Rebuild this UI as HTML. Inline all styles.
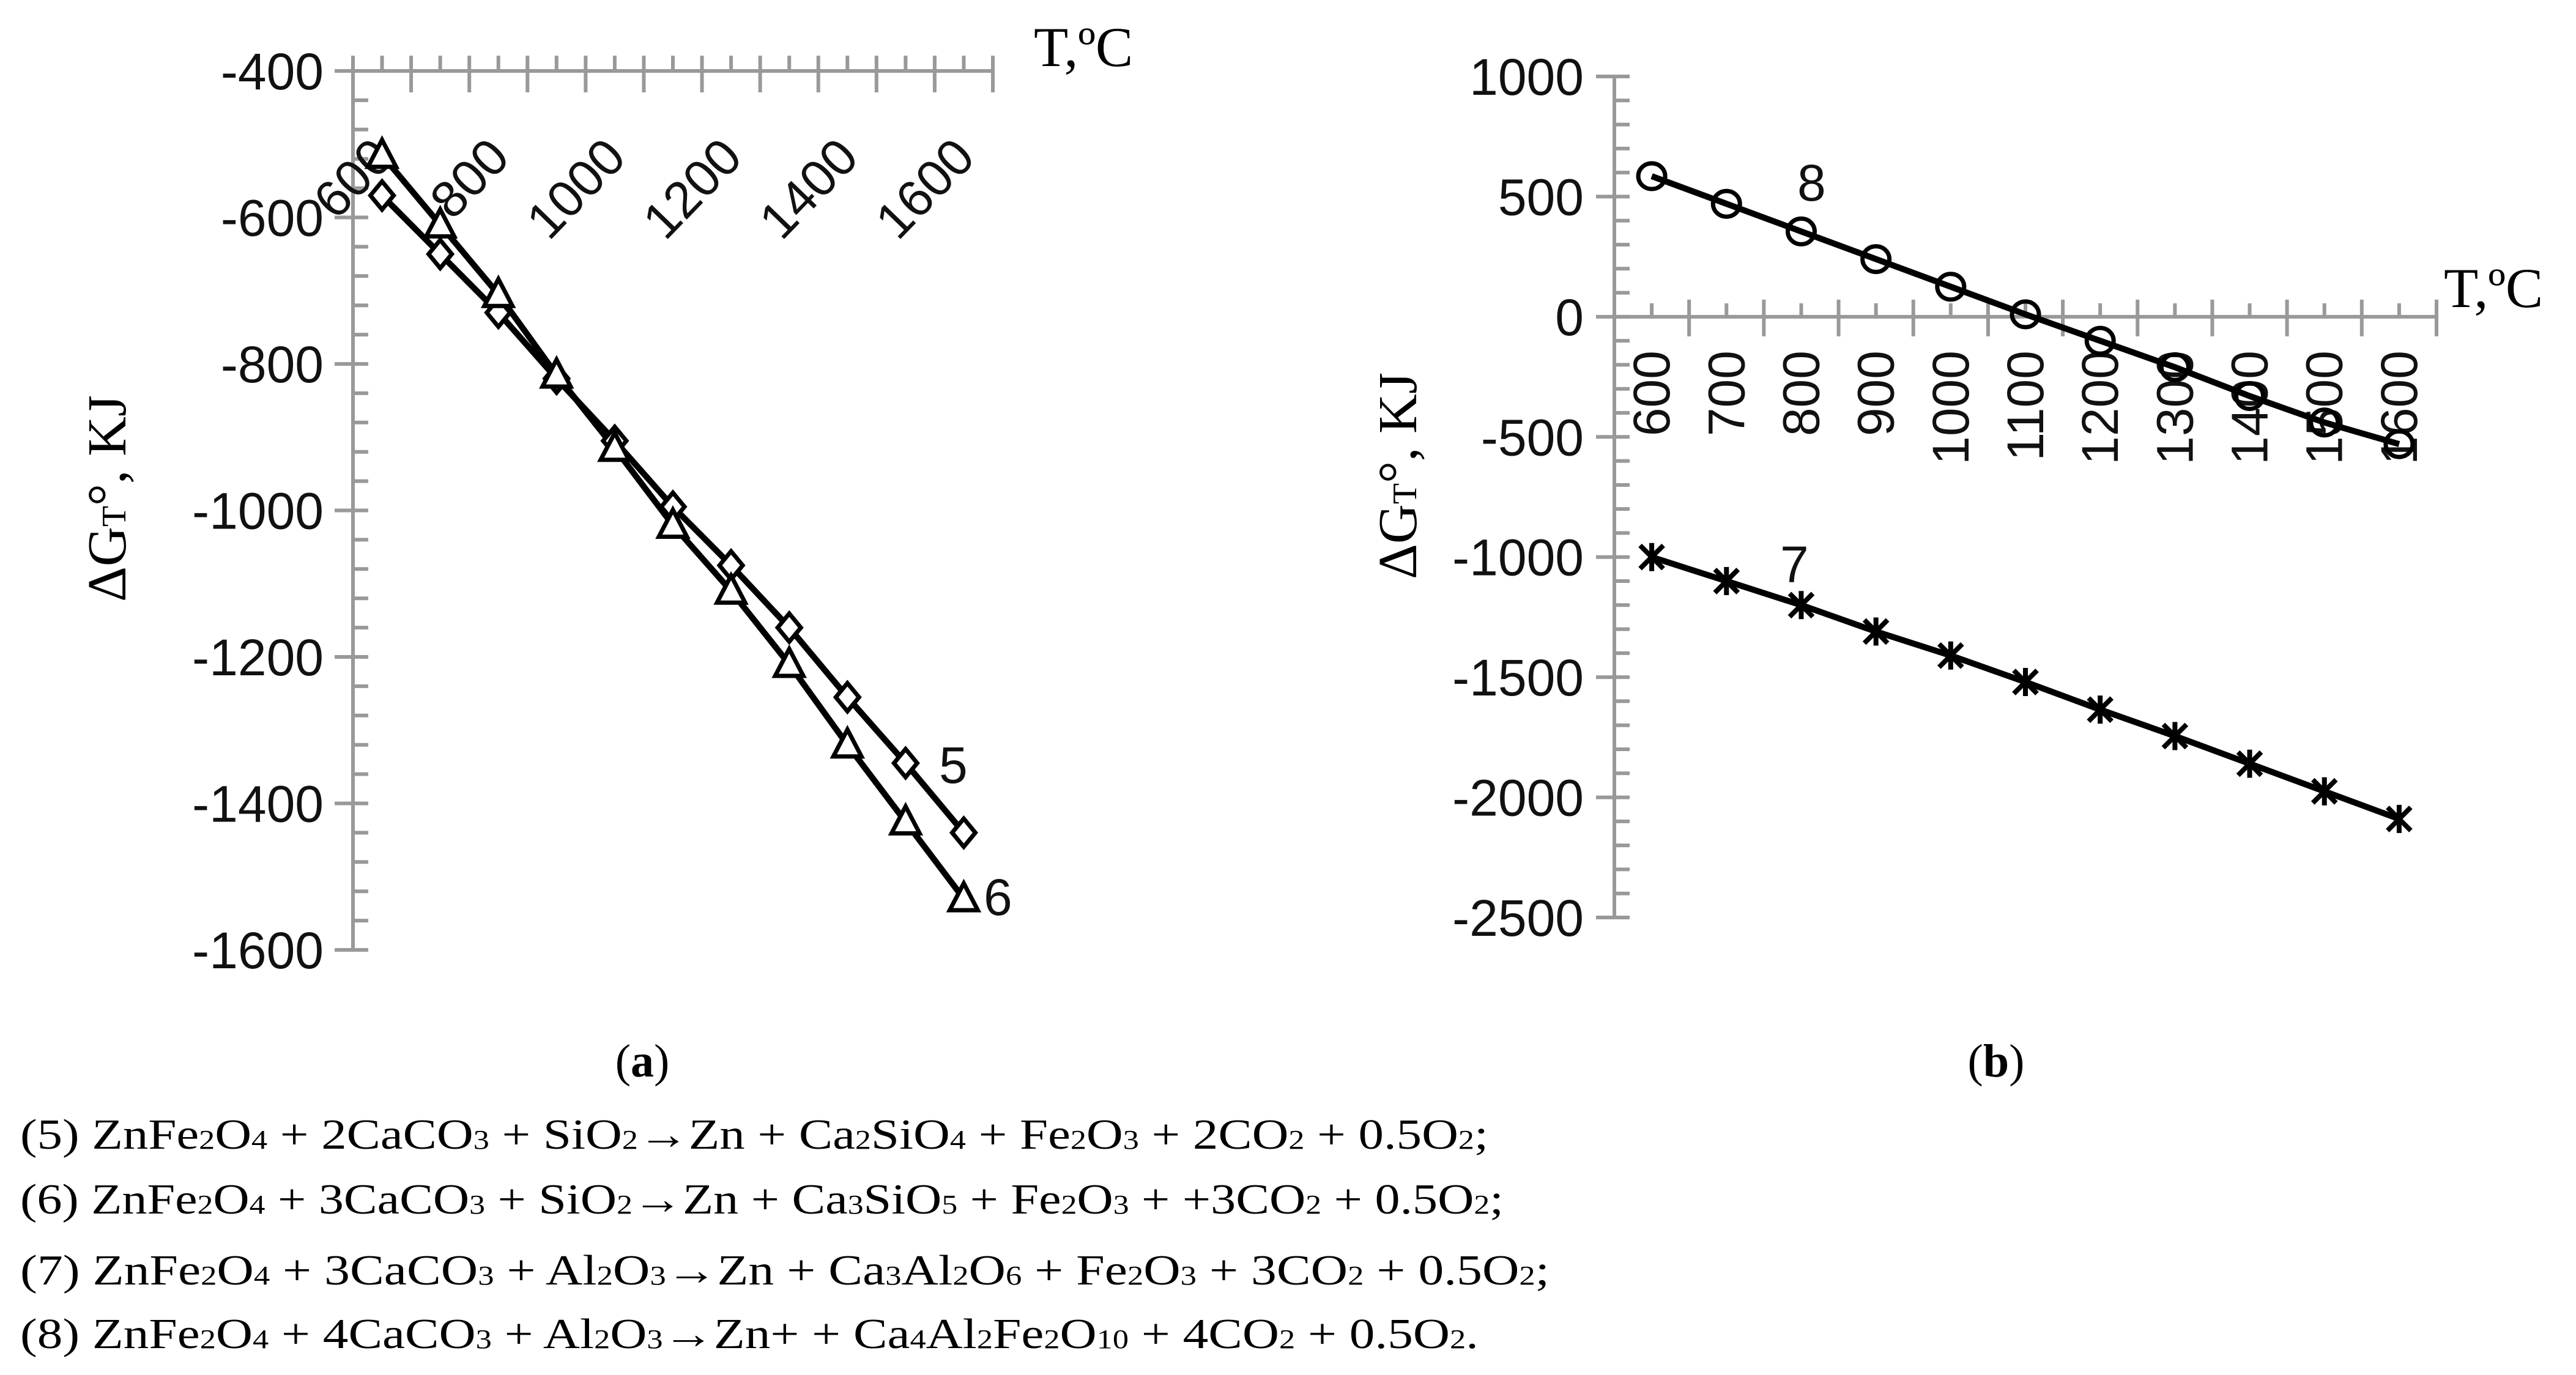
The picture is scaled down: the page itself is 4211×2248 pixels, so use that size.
<!DOCTYPE html>
<html><head><meta charset="utf-8"><style>
html,body{margin:0;padding:0;background:#fff;}
svg{display:block;}
.tk{font-family:"Liberation Sans",sans-serif;font-size:84px;fill:#111;}
.sr{font-family:"Liberation Serif",serif;fill:#000;}
</style></head><body>
<svg id="svg" width="4211" height="2248" viewBox="0 0 4211 2248" xmlns="http://www.w3.org/2000/svg">
<g id="ga"></g>
<g id="gb"></g>
<text class="sr" x="1050" y="1760" font-size="76" text-anchor="middle">(<tspan font-weight="bold">a</tspan>)</text>
<text class="sr" x="3263" y="1760" font-size="76" text-anchor="middle">(<tspan font-weight="bold">b</tspan>)</text>
<text class="sr" x="33" y="1878" font-size="70" textLength="2400" lengthAdjust="spacingAndGlyphs">(5) ZnFe<tspan font-size="44">2</tspan>O<tspan font-size="44">4</tspan> + 2CaCO<tspan font-size="44">3</tspan> + SiO<tspan font-size="44">2</tspan>→Zn + Ca<tspan font-size="44">2</tspan>SiO<tspan font-size="44">4</tspan> + Fe<tspan font-size="44">2</tspan>O<tspan font-size="44">3</tspan> + 2CO<tspan font-size="44">2</tspan> + 0.5O<tspan font-size="44">2</tspan>;</text>
<text class="sr" x="33" y="1984" font-size="70" textLength="2425" lengthAdjust="spacingAndGlyphs">(6) ZnFe<tspan font-size="44">2</tspan>O<tspan font-size="44">4</tspan> + 3CaCO<tspan font-size="44">3</tspan> + SiO<tspan font-size="44">2</tspan>→Zn + Ca<tspan font-size="44">3</tspan>SiO<tspan font-size="44">5</tspan> + Fe<tspan font-size="44">2</tspan>O<tspan font-size="44">3</tspan> + +3CO<tspan font-size="44">2</tspan> + 0.5O<tspan font-size="44">2</tspan>;</text>
<text class="sr" x="33" y="2100" font-size="70" textLength="2500" lengthAdjust="spacingAndGlyphs">(7) ZnFe<tspan font-size="44">2</tspan>O<tspan font-size="44">4</tspan> + 3CaCO<tspan font-size="44">3</tspan> + Al<tspan font-size="44">2</tspan>O<tspan font-size="44">3</tspan>→Zn + Ca<tspan font-size="44">3</tspan>Al<tspan font-size="44">2</tspan>O<tspan font-size="44">6</tspan> + Fe<tspan font-size="44">2</tspan>O<tspan font-size="44">3</tspan> + 3CO<tspan font-size="44">2</tspan> + 0.5O<tspan font-size="44">2</tspan>;</text>
<text class="sr" x="33" y="2204" font-size="70" textLength="2384" lengthAdjust="spacingAndGlyphs">(8) ZnFe<tspan font-size="44">2</tspan>O<tspan font-size="44">4</tspan> + 4CaCO<tspan font-size="44">3</tspan> + Al<tspan font-size="44">2</tspan>O<tspan font-size="44">3</tspan>→Zn+ + Ca<tspan font-size="44">4</tspan>Al<tspan font-size="44">2</tspan>Fe<tspan font-size="44">2</tspan>O<tspan font-size="44">10</tspan> + 4CO<tspan font-size="44">2</tspan> + 0.5O<tspan font-size="44">2</tspan>.</text>
</svg>
<script>
const categories = [600,700,800,900,1000,1100,1200,1300,1400,1500,1600];
const labelsA = ["600","","800","","1000","","1200","","1400","","1600"];
const series5 = [-570,-650,-730,-820,-905,-995,-1075,-1160,-1255,-1345,-1440];
const series6 = [-515,-610,-705,-815,-915,-1020,-1110,-1210,-1320,-1425,-1530];
const series8 = [585,470,355,240,125,10,-100,-210,-330,-440,-530];
const series7 = [-1000,-1100,-1200,-1310,-1410,-1520,-1635,-1745,-1860,-1975,-2090];
const yTicksA = [-400,-600,-800,-1000,-1200,-1400,-1600];
const yTicksB = [1000,500,0,-500,-1000,-1500,-2000,-2500];

const NS="http://www.w3.org/2000/svg";
function mk(parent,tag,attrs,text){const e=document.createElementNS(NS,tag);for(const k in attrs)e.setAttribute(k,attrs[k]);if(text!==undefined)e.textContent=text;parent.appendChild(e);return e;}
function ytitle(g,x,y,name){const t=mk(g,'text',{class:'sr',x:0,y:0,'font-size':90,'text-anchor':'middle',transform:`translate(${x} ${y}) rotate(-90)`});


mk(t,'tspan',{},'ΔG');mk(t,'tspan',{'font-size':56},'T');mk(t,'tspan',{},'°, KJ');}

// chart a
const ga=document.getElementById('ga');
const A={x0:577,x1:1623,yTop:116,yBot:1553,vTop:-400,vBot:-1600};
const yA=v=>A.yTop+(A.vTop-v)*(A.yBot-A.yTop)/(A.vTop-A.vBot);
const bwA=(A.x1-A.x0)/categories.length;
const xA=i=>A.x0+bwA*(i+0.5);
const axA=mk(ga,'g',{stroke:'#999','stroke-width':6,fill:'none'});


mk(axA,'line',{x1:A.x0,y1:A.yTop-25,x2:A.x0,y2:A.yBot});
mk(axA,'line',{x1:A.x0-30,y1:A.yTop,x2:A.x1,y2:A.yTop});
for(let v=-400;v>=-1600;v-=40){const y=yA(v);const major=(v%200===0);mk(axA,'line',{x1:major?A.x0-30:A.x0,y1:y,x2:A.x0+25,y2:y});}
for(let i=0;i<=categories.length;i++){const x=A.x0+bwA*i;mk(axA,'line',{x1:x,y1:A.yTop-25,x2:x,y2:A.yTop+35});if(i<categories.length)mk(axA,'line',{x1:x+bwA/2,y1:A.yTop-25,x2:x+bwA/2,y2:A.yTop});}
yTicksA.forEach(v=>{const t=mk(ga,'text',{class:'tk',x:A.x0-48,y:yA(v)+30,'text-anchor':'end'},String(v));

});
labelsA.forEach((s,i)=>{if(!s)return;const x=xA(i)+22,y=A.yTop+145;const t=mk(ga,'text',{class:'tk',x:x,y:y,'text-anchor':'end',transform:`rotate(-46 ${x} ${y})`,'font-size':92},s);

});
function line(g,arr,xf,yf,name){const p=mk(g,'polyline',{points:arr.map((v,i)=>xf(i)+','+yf(v)).join(' '),fill:'none',stroke:'#000','stroke-width':10});

}
line(ga,series5,xA,yA,'series-5-line');
line(ga,series6,xA,yA,'series-6-line');
series5.forEach((v,i)=>{const x=xA(i),y=yA(v);const m=mk(ga,'polygon',{points:`${x},${y-23} ${x+19},${y} ${x},${y+23} ${x-19},${y}`,fill:'#fff',stroke:'#000','stroke-width':7});

});
series6.forEach((v,i)=>{const x=xA(i),y=yA(v);const m=mk(ga,'polygon',{points:`${x},${y-25} ${x+23},${y+19} ${x-23},${y+19}`,fill:'#fff',stroke:'#000','stroke-width':7});

});
let t;
t=mk(ga,'text',{class:'tk',x:1535,y:1280,'font-size':90},'5');
t=mk(ga,'text',{class:'tk',x:1608,y:1496,'font-size':90},'6');
t=mk(ga,'text',{class:'sr',x:1690,y:108,'font-size':92},'T,ºC');
ytitle(ga,205,815,'y-axis-title-a');

// chart b
const gb=document.getElementById('gb');
const B={x0:2639,x1:3983,yTop:125,yBot:1500,vTop:1000,vBot:-2500};
const yB=v=>B.yTop+(B.vTop-v)*(B.yBot-B.yTop)/(B.vTop-B.vBot);
const bwB=(B.x1-B.x0)/categories.length;
const xB=i=>B.x0+bwB*(i+0.5);
const axB=mk(gb,'g',{stroke:'#999','stroke-width':6,fill:'none'});


mk(axB,'line',{x1:B.x0,y1:B.yTop,x2:B.x0,y2:B.yBot});
mk(axB,'line',{x1:B.x0,y1:yB(0),x2:B.x1,y2:yB(0)});
for(let v=1000;v>=-2500;v-=100){const y=yB(v);const major=(v%500===0);mk(axB,'line',{x1:major?B.x0-30:B.x0,y1:y,x2:B.x0+25,y2:y});}
for(let i=0;i<=categories.length;i++){const x=B.x0+bwB*i;mk(axB,'line',{x1:x,y1:yB(0)-28,x2:x,y2:yB(0)+32});if(i<categories.length)mk(axB,'line',{x1:x+bwB/2,y1:yB(0)-22,x2:x+bwB/2,y2:yB(0)});}
yTicksB.forEach(v=>{const t=mk(gb,'text',{class:'tk',x:B.x0-50,y:yB(v)+30,'text-anchor':'end'},String(v));

});
categories.forEach((c,i)=>{const x=xB(i)+29,y=573;const t=mk(gb,'text',{class:'tk',x:x,y:y,'text-anchor':'end',transform:`rotate(-90 ${x} ${y})`,'font-size':82},String(c));

});
line(gb,series8,xB,yB,'series-8-line');
line(gb,series7,xB,yB,'series-7-line');
series8.forEach((v,i)=>{const m=mk(gb,'ellipse',{cx:xB(i),cy:yB(v),rx:22,ry:21,fill:'none',stroke:'#000','stroke-width':7});

});
series7.forEach((v,i)=>{const x=xB(i),y=yB(v);const m=mk(gb,'path',{d:`M${x-19},${y-19}L${x+19},${y+19}M${x+19},${y-19}L${x-19},${y+19}M${x},${y-23}L${x},${y+23}`,fill:'none',stroke:'#000','stroke-width':8});

});
t=mk(gb,'text',{class:'tk',x:2938,y:328,'font-size':90},'8');
t=mk(gb,'text',{class:'tk',x:2910,y:952,'font-size':90},'7');
t=mk(gb,'text',{class:'sr',x:3995,y:502,'font-size':92},'T,ºC');
ytitle(gb,2315,778,'y-axis-title-b');
</script>
</body></html>
